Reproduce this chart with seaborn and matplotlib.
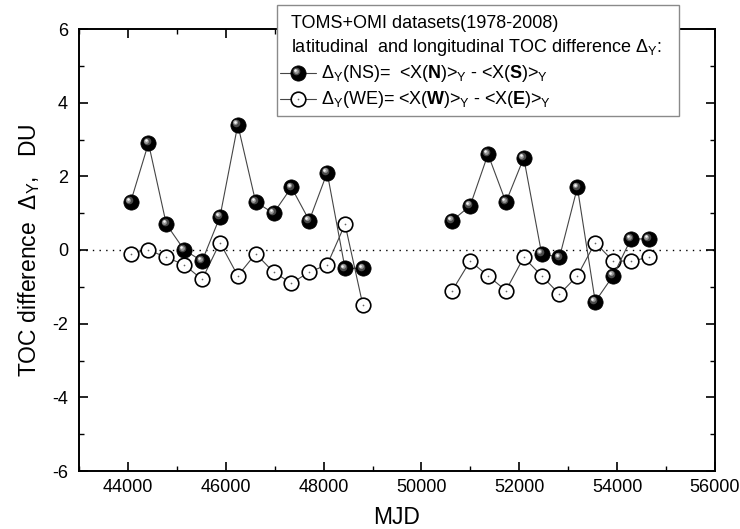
import numpy as np
import pandas as pd
import seaborn as sns
import matplotlib.pyplot as plt
from matplotlib.lines import Line2D
from matplotlib.patches import Rectangle
from matplotlib.transforms import offset_copy
from matplotlib.ticker import MultipleLocator

sns.set_style("ticks")
plt.rcParams['font.family'] = ['Liberation Sans', 'DejaVu Sans']
plt.rcParams['mathtext.fontset'] = 'custom'
plt.rcParams['mathtext.rm'] = 'Liberation Sans'
plt.rcParams['mathtext.it'] = 'Liberation Sans:italic'
plt.rcParams['mathtext.bf'] = 'Liberation Sans:bold'
plt.rcParams['axes.unicode_minus'] = False
plt.rcParams['text.color'] = 'black'
plt.rcParams['axes.labelcolor'] = 'black'
plt.rcParams['xtick.color'] = 'black'
plt.rcParams['ytick.color'] = 'black'

# Annual means, dated at mid-year (MJD); TOMS Nimbus-7/Meteor-3 then Earth Probe/OMI
mjd = [44055, 44420, 44785, 45151, 45516, 45881, 46246, 46612, 46977, 47342,
       47707, 48073, 48438, 48803,
       50630, 50995, 51360, 51726, 52091, 52456, 52821, 53187, 53552, 53917,
       54282, 54648]
segment = [1] * 14 + [2] * 12

# latitudinal difference  <X(N)> - <X(S)>
delta_ns = [1.3, 2.9, 0.7, 0.0, -0.3, 0.9, 3.4, 1.3, 1.0, 1.7, 0.8, 2.1, -0.5, -0.5,
            0.8, 1.2, 2.6, 1.3, 2.5, -0.1, -0.2, 1.7, -1.4, -0.7, 0.3, 0.3]
# longitudinal difference  <X(W)> - <X(E)>
delta_we = [-0.1, 0.0, -0.2, -0.4, -0.8, 0.2, -0.7, -0.1, -0.6, -0.9, -0.6, -0.4, 0.7, -1.5,
            -1.1, -0.3, -0.7, -1.1, -0.2, -0.7, -1.2, -0.7, 0.2, -0.3, -0.3, -0.2]

x_ticks = [44000, 46000, 48000, 50000, 52000, 54000, 56000]
y_ticks = [-6, -4, -2, 0, 2, 4, 6]

df = pd.DataFrame({"MJD": mjd, "segment": segment, "NS": delta_ns, "WE": delta_we})

W, H = 740, 529
fig = plt.figure(figsize=(W / 100, H / 100), dpi=100)
ax = fig.add_axes([79 / W, 1 - 471 / H, (715 - 79) / W, (471 - 29) / H])

line_col = "#454545"
shine = [(-1.8, 1.8, 30, "#4a4a4a"), (-2.4, 2.4, 12, "#9a9a9a"),
         (-2.8, 2.8, 3.5, "#f2f2f2")]

# zero reference
ax.axhline(0, color="black", lw=1.0, ls=(0, (1, 3.8)), zorder=1)

# open circles: W-E difference
sns.lineplot(data=df, x="MJD", y="WE", units="segment", estimator=None,
             color=line_col, lw=0.8, marker="o", markersize=10.5,
             markerfacecolor="white", markeredgecolor="black",
             markeredgewidth=1.2, ax=ax, zorder=3)
sns.scatterplot(data=df, x="MJD", y="WE", s=1.5, color="#666666",
                linewidth=0, ax=ax, legend=False, zorder=4)

# shaded spheres: N-S difference
sns.lineplot(data=df, x="MJD", y="NS", units="segment", estimator=None,
             color=line_col, lw=0.8, marker="o", markersize=11,
             markerfacecolor="black", markeredgecolor="black",
             markeredgewidth=0.5, ax=ax, zorder=5)

for dx, dy, s, c in shine:
    tr = offset_copy(ax.transData, fig=fig, x=dx, y=dy, units="dots")
    sns.scatterplot(data=df, x="MJD", y="NS", s=s, color=c, linewidth=0,
                    transform=tr, ax=ax, legend=False, zorder=6)

ax.set_xlim(43000, 56000)
ax.set_ylim(-6, 6)
ax.set_xticks(x_ticks)
ax.set_yticks(y_ticks)
ax.xaxis.set_minor_locator(MultipleLocator(1000))
ax.yaxis.set_minor_locator(MultipleLocator(1))
ax.tick_params(which="both", direction="in", top=True, right=True,
               labelsize=13, colors="black")
ax.tick_params(axis="x", which="major", length=6.5, width=1.2, pad=6)
ax.tick_params(axis="y", which="major", length=6.5, width=1.2, pad=8)
ax.tick_params(which="minor", length=3.6, width=1.0)
for sp in ax.spines.values():
    sp.set_linewidth(1.4)
    sp.set_color("black")

ax.set_xlabel("MJD", fontsize=16.5, labelpad=7)
ax.set_ylabel(r"TOC difference  $\Delta_{\mathrm{Y}}$,   DU", fontsize=16.5, labelpad=7)


# key box
def fx(px):
    return px / W


def fy(py):
    return 1 - py / H


box = Rectangle((fx(277), fy(116)), fx(679) - fx(277), fy(5) - fy(116),
                transform=fig.transFigure, facecolor="white", edgecolor="#8a8a8a",
                lw=1.0, zorder=10)
fig.add_artist(box)

fs = 13
fig.text(fx(291), fy(23), "TOMS+OMI datasets(1978-2008)", fontsize=fs,
         va="center", ha="left", zorder=11)
fig.text(fx(291), fy(48), r"latitudinal  and longitudinal TOC difference $\Delta_{\mathrm{Y}}$:",
         fontsize=fs, va="center", ha="left", zorder=11)
fig.text(fx(321), fy(73),
         r"$\Delta_{\mathrm{Y}}$(NS)=  <X($\mathbf{N}$)>$_{\mathrm{Y}}$ - <X($\mathbf{S}$)>$_{\mathrm{Y}}$",
         fontsize=fs, va="center", ha="left", zorder=11)
fig.text(fx(321), fy(99),
         r"$\Delta_{\mathrm{Y}}$(WE)= <X($\mathbf{W}$)>$_{\mathrm{Y}}$ - <X($\mathbf{E}$)>$_{\mathrm{Y}}$",
         fontsize=fs, va="center", ha="left", zorder=11)

for row, face in ((73, "black"), (99, "white")):
    fig.add_artist(Line2D([fx(280), fx(316)], [fy(row), fy(row)], color=line_col,
                          lw=0.8, transform=fig.transFigure, zorder=11))
    fig.add_artist(Line2D([fx(298)], [fy(row)], marker="o",
                          markersize=11 if face == "black" else 10.5,
                          markerfacecolor=face, markeredgecolor="black",
                          markeredgewidth=0.5 if face == "black" else 1.2,
                          transform=fig.transFigure, zorder=12))
    if face == "black":
        for dx, dy, s, c in shine:
            fig.add_artist(Line2D([fx(298 + dx)], [fy(row - dy)], marker="o",
                                  markersize=np.sqrt(s), markerfacecolor=c,
                                  markeredgewidth=0, transform=fig.transFigure,
                                  zorder=13))
    else:
        fig.add_artist(Line2D([fx(298)], [fy(row)], marker="o", markersize=1.2,
                              markerfacecolor="#666666", markeredgewidth=0,
                              transform=fig.transFigure, zorder=13))

fig.savefig("out.png", dpi=100)
